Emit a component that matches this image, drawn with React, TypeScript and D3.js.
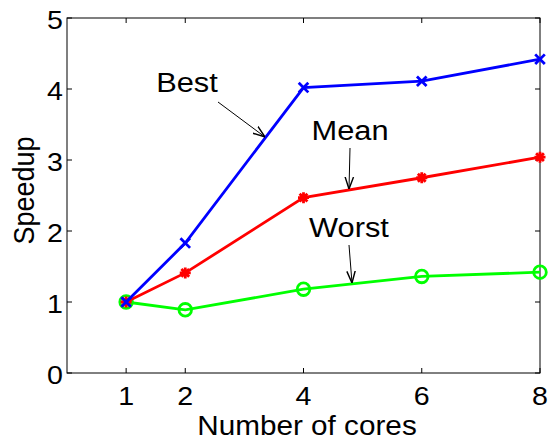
import React from "react";
import * as d3 from "d3";

const cores = [1, 2, 4, 6, 8];
const bestSpeedup = [1.0, 1.83, 4.02, 4.11, 4.42];
const meanSpeedup = [1.0, 1.41, 2.47, 2.75, 3.04];
const worstSpeedup = [1.0, 0.89, 1.18, 1.36, 1.42];
const xTicks = [1, 2, 4, 6, 8];
const yTicks = [0, 1, 2, 3, 4, 5];

const W = 549;
const H = 440;
const margin = { left: 67, right: 9, top: 18, bottom: 67 };
const FONT = "Liberation Sans, Arial, Helvetica, sans-serif";
const SX = 1.1; // glyphs are drawn slightly wide

type TextProps = {
  x: number;
  y: number;
  size: number;
  anchor?: string;
  rotate?: number;
  children: React.ReactNode;
};

function Label({ x, y, size, anchor = "middle", rotate = 0, children }: TextProps) {
  const t = rotate
    ? `translate(${x},${y}) rotate(${rotate}) scale(1,${SX})`
    : `translate(${x},${y}) scale(${SX},1)`;
  return (
    <text transform={t} textAnchor={anchor} fontFamily={FONT} fontSize={size} fill="#000">
      {children}
    </text>
  );
}

export default function App() {
  const x = d3.scaleLinear().domain([0, 8]).range([margin.left, W - margin.right]);
  const y = d3.scaleLinear().domain([0, 5]).range([H - margin.bottom, margin.top]);
  const line = d3
    .line<number>()
    .x((_, i) => x(cores[i]))
    .y((d) => y(d));

  const x0 = x.range()[0];
  const x1 = x.range()[1];
  const y0 = y.range()[0];
  const y1 = y.range()[1];
  const tick = 5;
  const lw = 2.8;

  const series = [
    { name: "Worst", values: worstSpeedup, color: "#00ff00", marker: "circle" },
    { name: "Mean", values: meanSpeedup, color: "#ff0000", marker: "star" },
    { name: "Best", values: bestSpeedup, color: "#0000ff", marker: "x" },
  ];

  const marker = (kind: string, cx: number, cy: number, color: string, key: number) => {
    if (kind === "circle") {
      return <circle key={key} cx={cx} cy={cy} r={6.3} fill="none" stroke={color} strokeWidth={lw} />;
    }
    if (kind === "x") {
      const s = 4.8;
      return (
        <path
          key={key}
          d={`M${cx - s},${cy - s}L${cx + s},${cy + s}M${cx - s},${cy + s}L${cx + s},${cy - s}`}
          stroke={color}
          strokeWidth={lw}
        />
      );
    }
    const s = 5.5;
    const d = s * 0.7071;
    return (
      <path
        key={key}
        d={`M${cx - s},${cy}L${cx + s},${cy}M${cx},${cy - s}L${cx},${cy + s}M${cx - d},${cy - d}L${cx + d},${cy + d}M${cx - d},${cy + d}L${cx + d},${cy - d}`}
        stroke={color}
        strokeWidth={lw}
      />
    );
  };

  const annotations = [
    { text: "Best", tx: 187, ty: 92, from: [218, 102], to: [265, 137] },
    { text: "Mean", tx: 350, ty: 140, from: [350, 148], to: [349, 189] },
    { text: "Worst", tx: 349, ty: 237, from: [349, 245], to: [352, 283] },
  ];

  return (
    <svg width={W} height={H} style={{ position: "absolute", left: 0, top: 0, background: "#fff" }}>
      <defs>
        <marker id="arrowhead" viewBox="0 0 10 10" refX="10" refY="5" markerWidth="12" markerHeight="12" orient="auto" markerUnits="userSpaceOnUse">
          <path d="M0,1.5L10,5L0,8.5" fill="none" stroke="#000" strokeWidth={1.2} />
        </marker>
      </defs>
      <rect x={0} y={0} width={W} height={H} fill="#fff" />

      {/* axis box */}
      <rect x={x0} y={y1} width={x1 - x0} height={y0 - y1} fill="none" stroke="#000" strokeWidth={1} />

      {/* x ticks */}
      {xTicks.map((t) => (
        <g key={`xt${t}`}>
          <line x1={x(t)} x2={x(t)} y1={y0} y2={y0 - tick} stroke="#000" />
          <line x1={x(t)} x2={x(t)} y1={y1} y2={y1 + tick} stroke="#000" />
          <Label x={x(t)} y={y0 + 31.5} size={26}>
            {t}
          </Label>
        </g>
      ))}

      {/* y ticks */}
      {yTicks.map((t) => (
        <g key={`yt${t}`}>
          <line x1={x0} x2={x0 + tick} y1={y(t)} y2={y(t)} stroke="#000" />
          <line x1={x1} x2={x1 - tick} y1={y(t)} y2={y(t)} stroke="#000" />
          <Label x={x0 - 4} y={y(t) + 11} size={26} anchor="end">
            {t}
          </Label>
        </g>
      ))}

      {/* axis titles */}
      <Label x={307} y={435} size={27}>
        Number of cores
      </Label>
      <Label x={34} y={(y0 + y1) / 2 - 5} size={27} rotate={-90}>
        Speedup
      </Label>

      {/* series */}
      {series.map((s) => (
        <g key={s.name}>
          <path d={line(s.values) ?? ""} fill="none" stroke={s.color} strokeWidth={lw} />
          {s.values.map((v, i) => marker(s.marker, x(cores[i]), y(v), s.color, i))}
        </g>
      ))}

      {/* annotations */}
      {annotations.map((a) => (
        <g key={a.text}>
          <Label x={a.tx} y={a.ty} size={28}>
            {a.text}
          </Label>
          <line
            x1={a.from[0]}
            y1={a.from[1]}
            x2={a.to[0]}
            y2={a.to[1]}
            stroke="#000"
            strokeWidth={1}
            markerEnd="url(#arrowhead)"
          />
        </g>
      ))}
    </svg>
  );
}
